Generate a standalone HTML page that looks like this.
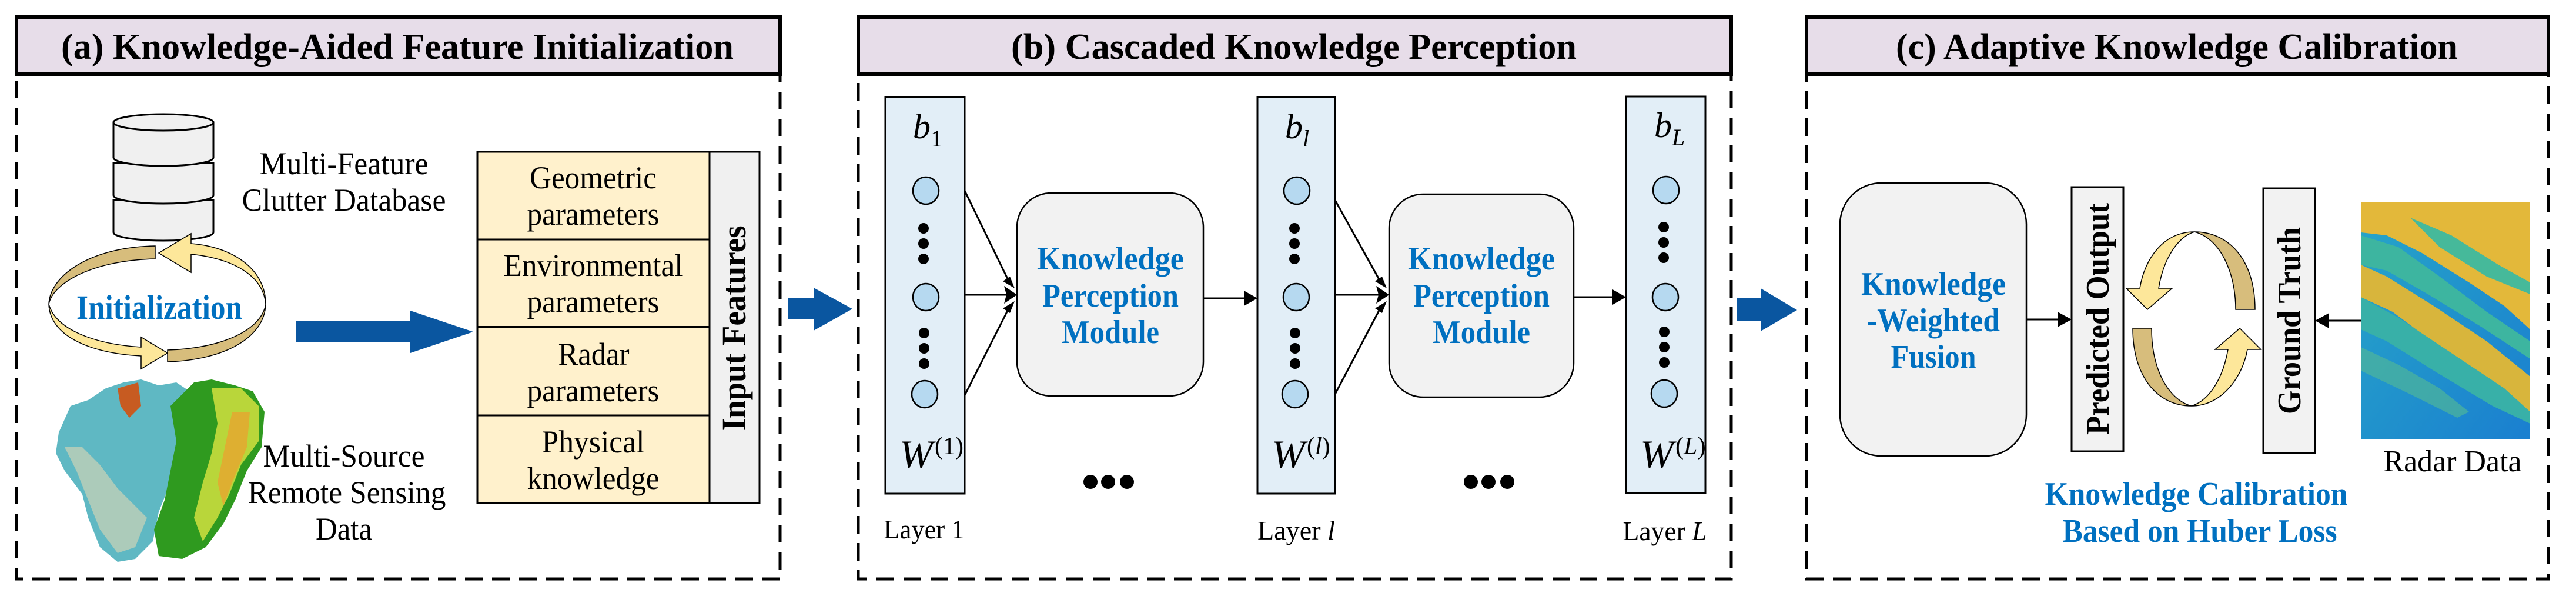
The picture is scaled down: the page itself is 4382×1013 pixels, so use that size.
<!DOCTYPE html>
<html><head><meta charset="utf-8"><style>
html,body{margin:0;padding:0;background:#fff;}
svg{display:block;font-family:"Liberation Serif",serif;}
text{font-family:"Liberation Serif",serif;}
</style></head><body>
<svg width="4382" height="1013" viewBox="0 0 4382 1013" xmlns="http://www.w3.org/2000/svg" font-family="Liberation Serif, serif">
<defs>
<linearGradient id="rg" x1="0" y1="0" x2="1" y2="1">
<stop offset="0" stop-color="#27a6c8"/><stop offset="1" stop-color="#1a7fd0"/>
</linearGradient>
</defs>

<!-- Panel frames -->
<g fill="none" stroke="#000" stroke-width="5" stroke-dasharray="30,16">
<rect x="28" y="29" width="1299" height="955"/>
<rect x="1460" y="29" width="1485" height="955"/>
<rect x="3073" y="29" width="1262" height="955"/>
</g>
<g stroke="#000" stroke-width="6" fill="#e7dde9">
<rect x="28" y="29" width="1299" height="97"/>
<rect x="1460" y="29" width="1485" height="97"/>
<rect x="3073" y="29" width="1262" height="97"/>
</g>
<g font-weight="bold" font-size="62" text-anchor="middle" lengthAdjust="spacingAndGlyphs">
<text x="676" y="100" textLength="1144" lengthAdjust="spacingAndGlyphs">(a) Knowledge-Aided Feature Initialization</text>
<text x="2201" y="100" textLength="962" lengthAdjust="spacingAndGlyphs">(b) Cascaded Knowledge Perception</text>
<text x="3703" y="100" textLength="956" lengthAdjust="spacingAndGlyphs">(c) Adaptive Knowledge Calibration</text>
</g>

<!-- ===== Panel (a) ===== -->
<g stroke="#000" stroke-width="3" fill="#f0f0f0">
<path d="M193,340 v55 a85,14 0 0 0 170,0 v-55 z"/>
<path d="M193,277 v55 a85,14 0 0 0 170,0 v-55 z"/>
<path d="M193,208 v60 a85,14 0 0 0 170,0 v-60 z"/>
<ellipse cx="278" cy="208" rx="85" ry="14"/>
</g>
<g font-size="54" text-anchor="middle">
<text x="585" y="296" textLength="287" lengthAdjust="spacingAndGlyphs">Multi-Feature</text>
<text x="585" y="358" textLength="347" lengthAdjust="spacingAndGlyphs">Clutter Database</text>
<text x="585" y="793" textLength="275" lengthAdjust="spacingAndGlyphs">Multi-Source</text>
<text x="590" y="855" textLength="337" lengthAdjust="spacingAndGlyphs">Remote Sensing</text>
<text x="585" y="917" textLength="96" lengthAdjust="spacingAndGlyphs">Data</text>
</g>
<g stroke="#000" stroke-width="1.5">
<path d="M264,418 C150,420 85,470 83,517 C90,480 160,442 264,440 Z" fill="#d7bd7c"/>
<path d="M83,517 C85,570 150,600 240,605 L240,627 L285,600 L240,573 L240,590 C160,585 95,560 83,517 Z" fill="#fde79a"/>
<path d="M452,517 C450,575 380,612 285,615 L285,595 C380,592 445,560 452,517 Z" fill="#d7bd7c"/>
<path d="M452,517 C448,470 400,440 325,432 L325,463 L270,430 L325,397 L325,414 C400,420 452,460 452,517 Z" fill="#fde79a"/>
</g>
<text x="271" y="542" font-size="58" font-weight="bold" fill="#0070c0" text-anchor="middle" textLength="282" lengthAdjust="spacingAndGlyphs">Initialization</text>
<!-- map -->
<g>
<path d="M100,735 L120,690 L150,680 L180,660 L210,650 L240,645 L270,655 L300,650 L330,670 L320,720 L300,760 L290,820 L270,870 L260,920 L230,950 L200,955 L170,930 L150,880 L140,840 L110,800 L95,770 Z" fill="#5fb8c3"/>
<path d="M110,760 L130,800 L150,850 L170,900 L200,940 L230,930 L250,880 L230,860 L200,830 L170,790 L140,760 Z" fill="#bfd0b8" opacity="0.8"/>
<path d="M200,660 L235,650 L240,690 L220,710 L205,690 Z" fill="#c75b21"/>
<path d="M290,690 L330,650 L360,645 L400,655 L430,665 L450,700 L445,760 L420,800 L400,850 L380,890 L350,930 L310,950 L270,945 L262,900 L280,850 L290,800 L300,750 Z" fill="#2f9a1f"/>
<path d="M360,660 L410,660 L440,690 L440,750 L410,790 L390,840 L370,880 L345,920 L330,880 L345,820 L360,770 L370,720 Z" fill="#b9d63a"/>
<path d="M395,700 L425,700 L420,760 L395,820 L380,860 L370,820 Z" fill="#e7a530" opacity="0.8"/>
</g>
<path d="M503,546 H698 V528 L805,564 L698,600 V582 H503 Z" fill="#0a56a0"/>
<g stroke="#000" stroke-width="3">
<rect x="812" y="258" width="395" height="597" fill="#fff1cc"/>
<rect x="1207" y="258" width="85" height="597" fill="#f0f0f0"/>
<line x1="812" y1="407" x2="1207" y2="407"/>
<line x1="812" y1="556" x2="1207" y2="556" stroke-width="4"/>
<line x1="812" y1="706" x2="1207" y2="706"/>
</g>
<g font-size="54" text-anchor="middle">
<text x="1009" y="320" textLength="216" lengthAdjust="spacingAndGlyphs">Geometric</text>
<text x="1009" y="382" textLength="225" lengthAdjust="spacingAndGlyphs">parameters</text>
<text x="1009" y="469" textLength="305" lengthAdjust="spacingAndGlyphs">Environmental</text>
<text x="1009" y="531" textLength="225" lengthAdjust="spacingAndGlyphs">parameters</text>
<text x="1010" y="620" textLength="121" lengthAdjust="spacingAndGlyphs">Radar</text>
<text x="1009" y="682" textLength="225" lengthAdjust="spacingAndGlyphs">parameters</text>
<text x="1009" y="769" textLength="175" lengthAdjust="spacingAndGlyphs">Physical</text>
<text x="1009" y="831" textLength="225" lengthAdjust="spacingAndGlyphs">knowledge</text>
</g>
<text transform="translate(1268,558) rotate(-90)" font-size="58" font-weight="bold" text-anchor="middle" textLength="349" lengthAdjust="spacingAndGlyphs">Input Features</text>
<path d="M1341,507 H1384 V489 L1450,525 L1384,562 V543 H1341 Z" fill="#0a56a0"/>

<!-- ===== Panel (b) ===== -->
<g stroke="#000" stroke-width="3" fill="#e2eef7">
<rect x="1506" y="165" width="135" height="674"/>
<rect x="2139" y="165" width="132" height="674"/>
<rect x="2766" y="164" width="135" height="674"/>
</g>
<g stroke="#000" stroke-width="2.5" fill="#b6d9f0">
<ellipse cx="1575" cy="324" rx="22" ry="23"/><ellipse cx="1575" cy="505" rx="22" ry="23"/><ellipse cx="1573" cy="670" rx="22" ry="23"/>
<ellipse cx="2206" cy="324" rx="22" ry="23"/><ellipse cx="2205" cy="505" rx="22" ry="23"/><ellipse cx="2203" cy="670" rx="22" ry="23"/>
<ellipse cx="2834" cy="323" rx="22" ry="23"/><ellipse cx="2833" cy="505" rx="22" ry="23"/><ellipse cx="2831" cy="669" rx="22" ry="23"/>
</g>
<g fill="#000">
<circle cx="1571" cy="388" r="9"/><circle cx="1571" cy="414" r="9"/><circle cx="1571" cy="440" r="9"/>
<circle cx="1572" cy="566" r="9"/><circle cx="1572" cy="592" r="9"/><circle cx="1572" cy="618" r="9"/>
<circle cx="2202" cy="388" r="9"/><circle cx="2202" cy="414" r="9"/><circle cx="2202" cy="440" r="9"/>
<circle cx="2203" cy="566" r="9"/><circle cx="2203" cy="592" r="9"/><circle cx="2203" cy="618" r="9"/>
<circle cx="2830" cy="386" r="9"/><circle cx="2830" cy="412" r="9"/><circle cx="2830" cy="438" r="9"/>
<circle cx="2831" cy="564" r="9"/><circle cx="2831" cy="590" r="9"/><circle cx="2831" cy="616" r="9"/>
<circle cx="1855" cy="819" r="12"/><circle cx="1885" cy="819" r="12"/><circle cx="1917" cy="819" r="12"/>
<circle cx="2502" cy="819" r="12"/><circle cx="2532" cy="819" r="12"/><circle cx="2564" cy="819" r="12"/>
</g>
<g font-style="italic" font-size="60">
<text x="1553" y="235">b</text><text x="1583" y="249" font-size="40" font-style="normal">1</text>
<text x="2186" y="235">b</text><text x="2216" y="249" font-size="40">l</text>
<text x="2814" y="233">b</text><text x="2844" y="247" font-size="40">L</text>
<text x="1530" y="795" font-size="68">W</text><text x="1590" y="772" font-size="42" font-style="normal">(1)</text>
<text x="2163" y="795" font-size="68">W</text><text x="2223" y="772" font-size="42" font-style="normal">(<tspan font-style="italic">l</tspan>)</text>
<text x="2790" y="795" font-size="68">W</text><text x="2850" y="772" font-size="42" font-style="normal">(<tspan font-style="italic">L</tspan>)</text>
</g>
<g font-size="46" text-anchor="middle">
<text x="1572" y="915" textLength="137" lengthAdjust="spacingAndGlyphs">Layer 1</text>
<text x="2205" y="917" textLength="132" lengthAdjust="spacingAndGlyphs">Layer <tspan font-style="italic">l</tspan></text>
<text x="2832" y="918" textLength="143" lengthAdjust="spacingAndGlyphs">Layer <tspan font-style="italic">L</tspan></text>
</g>
<g stroke="#000" stroke-width="2.5" fill="#f2f2f2">
<rect x="1730" y="328" width="317" height="345" rx="58"/>
<rect x="2363" y="330" width="314" height="345" rx="58"/>
</g>
<g font-size="56" font-weight="bold" fill="#0070c0" text-anchor="middle">
<text x="1889" y="458" textLength="250" lengthAdjust="spacingAndGlyphs">Knowledge</text><text x="1889" y="521" textLength="232" lengthAdjust="spacingAndGlyphs">Perception</text><text x="1889" y="583" textLength="166" lengthAdjust="spacingAndGlyphs">Module</text>
<text x="2520" y="458" textLength="250" lengthAdjust="spacingAndGlyphs">Knowledge</text><text x="2520" y="521" textLength="232" lengthAdjust="spacingAndGlyphs">Perception</text><text x="2520" y="583" textLength="166" lengthAdjust="spacingAndGlyphs">Module</text>
</g>
<g stroke="#000" stroke-width="3" fill="none">
<line x1="1641" y1="324" x2="1718" y2="482"/>
<line x1="1641" y1="501" x2="1712" y2="501"/>
<line x1="1641" y1="672" x2="1718" y2="520"/>
<line x1="2047" y1="507" x2="2122" y2="507"/>
<line x1="2271" y1="340" x2="2350" y2="482"/>
<line x1="2271" y1="501" x2="2345" y2="501"/>
<line x1="2271" y1="670" x2="2350" y2="520"/>
<line x1="2677" y1="505" x2="2750" y2="505"/>
</g>
<g fill="#000">
<path d="M1730,501 L1708,486 L1712,501 L1708,516 Z"/>
<path d="M1726,490 L1706,478 L1718,470 Z"/>
<path d="M1726,512 L1706,524 L1718,532 Z"/>
<path d="M2139,507 L2116,494 V520 Z"/>
<path d="M2363,501 L2341,486 L2345,501 L2341,516 Z"/>
<path d="M2359,490 L2339,478 L2351,470 Z"/>
<path d="M2359,512 L2339,524 L2351,532 Z"/>
<path d="M2766,505 L2743,492 V518 Z"/>
</g>
<path d="M2955,507 H2995 V490 L3057,527 L2995,563 V545 H2955 Z" fill="#0a56a0"/>

<!-- ===== Panel (c) ===== -->
<rect x="3130" y="311" width="317" height="464" rx="70" fill="#f2f2f2" stroke="#000" stroke-width="2.5"/>
<g font-size="56" font-weight="bold" fill="#0070c0" text-anchor="middle">
<text x="3289" y="501" textLength="246" lengthAdjust="spacingAndGlyphs">Knowledge</text><text x="3289" y="563" textLength="226" lengthAdjust="spacingAndGlyphs">-Weighted</text><text x="3289" y="625" textLength="145" lengthAdjust="spacingAndGlyphs">Fusion</text>
<text x="3736" y="858" textLength="515" lengthAdjust="spacingAndGlyphs">Knowledge Calibration</text>
<text x="3742" y="921" textLength="467" lengthAdjust="spacingAndGlyphs">Based on Huber Loss</text>
</g>
<g stroke="#000" stroke-width="3" fill="#f2f2f2">
<rect x="3524" y="318" width="88" height="449"/>
<rect x="3850" y="320" width="88" height="450"/>
</g>
<g font-size="56" font-weight="bold" text-anchor="middle">
<text transform="translate(3587,542) rotate(-90)" textLength="394" lengthAdjust="spacingAndGlyphs">Predicted Output</text>
<text transform="translate(3913,545) rotate(-90)" textLength="318" lengthAdjust="spacingAndGlyphs">Ground Truth</text>
</g>
<g stroke="#000" stroke-width="3">
<line x1="3447" y1="543" x2="3505" y2="543"/>
<line x1="4016" y1="545" x2="3958" y2="545"/>
</g>
<path d="M3524,543 L3500,530 V556 Z"/><path d="M3938,545 L3962,532 V558 Z"/>
<g stroke="#000" stroke-width="1.5">
<path d="M3733,394 C3790,394 3836,440 3836,526 L3803,526 C3803,460 3775,405 3733,394 Z" fill="#d7bd7c"/>
<path d="M3733,394 C3680,394 3648,440 3640,490 L3617,490 L3653,526 L3695,490 L3672,490 C3680,440 3705,402 3733,394 Z" fill="#fde79a"/>
<path d="M3728,690 C3670,690 3628,640 3628,558 L3660,558 C3660,630 3690,680 3728,690 Z" fill="#d7bd7c"/>
<path d="M3728,690 C3780,690 3815,640 3823,594 L3846,594 L3810,558 L3768,594 L3790,594 C3782,640 3760,680 3728,690 Z" fill="#fde79a"/>
</g>
<g>
<rect x="4016" y="343" width="288" height="403" fill="url(#rg)"/>
<path d="M4016,343 H4304 V560 L4260,520 L4200,480 L4120,430 L4060,400 L4016,395 Z" fill="#e3b83a"/>
<path d="M4016,400 L4080,420 L4150,470 L4230,530 L4304,580 V610 L4220,555 L4130,500 L4060,460 L4016,450 Z" fill="#3db5a0"/>
<path d="M4016,450 L4060,470 L4140,520 L4230,580 L4304,640 V700 L4240,650 L4150,590 L4070,530 L4016,505 Z" fill="#d8b53c"/>
<path d="M4016,505 L4080,540 L4170,600 L4260,660 L4304,700 V720 L4240,690 L4140,630 L4060,580 L4016,560 Z" fill="#38b0a8"/>
<path d="M4100,370 L4170,400 L4250,450 L4304,480 V500 L4230,470 L4150,420 Z" fill="#46b99a"/>
<path d="M4016,590 L4080,620 L4150,660 L4200,700 L4180,710 L4100,670 L4016,630 Z" fill="#4fb59a" opacity="0.7"/>
</g>
<text x="4172" y="801" font-size="52" text-anchor="middle" textLength="235" lengthAdjust="spacingAndGlyphs">Radar Data</text>
</svg>
</body></html>
